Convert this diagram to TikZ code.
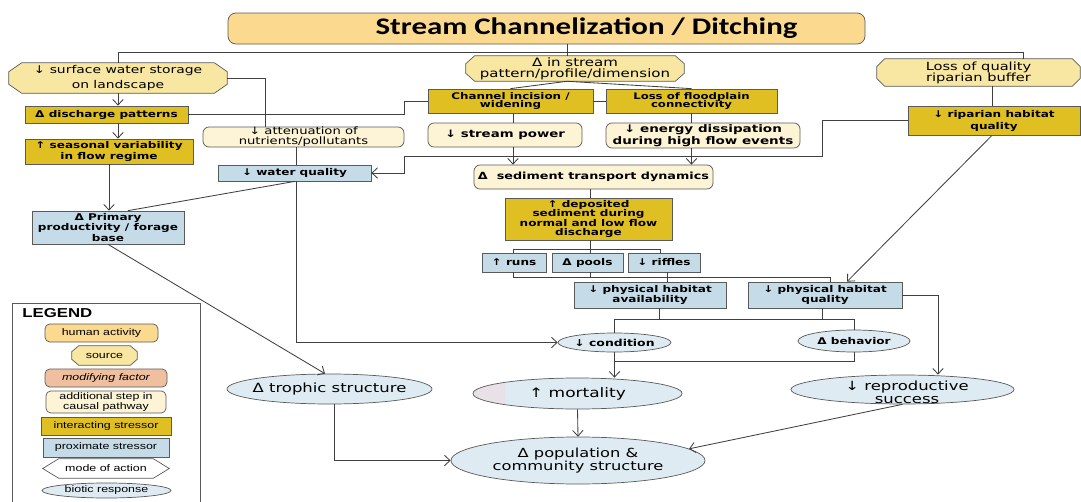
\documentclass[tikz,border=0pt]{standalone}
\usepackage{fontspec}
\usetikzlibrary{shapes.geometric,arrows.meta}
\newfontfamily\dv{DejaVu Sans}[FakeStretch=1.3]
\newfontfamily\calf{Carlito}[FakeStretch=1.3]
\newfontfamily\arl{Liberation Sans}[FakeStretch=1.3]
\newdimen\pxu \pxu=0.25mm
\newcommand\fsz[2]{\fontsize{#1}{#2}\selectfont}
\definecolor{titlec}{HTML}{FBD98F}
\definecolor{srcc}{HTML}{F8E7A2}
\definecolor{goldc}{HTML}{E0BF22}
\definecolor{creamc}{HTML}{FDF4D6}
\definecolor{bluec}{HTML}{C5DCE8}
\definecolor{bioc}{HTML}{DEEBF2}
\definecolor{pinkc}{HTML}{E8E2E8}
\definecolor{salc}{HTML}{EFBF9F}
\definecolor{bordc}{HTML}{5A5A5A}
\definecolor{linec}{HTML}{404040}
\pgfdeclarelayer{background}
\pgfsetlayers{background,main}
\newcommand\octagon[4]{\begin{pgfonlayer}{background}\path[draw=bordc,fill=#4,line width=0.5pt]
 ([xshift=#2\pxu]#1.north west) -- ([xshift=-#2\pxu]#1.north east) -- ([yshift=-#3\pxu]#1.north east)
 -- ([yshift=#3\pxu]#1.south east) -- ([xshift=-#2\pxu]#1.south east) -- ([xshift=#2\pxu]#1.south west)
 -- ([yshift=#3\pxu]#1.south west) -- ([yshift=-#3\pxu]#1.north west) -- cycle;\end{pgfonlayer}}
\newcommand\hexagon[3]{\begin{pgfonlayer}{background}\path[draw=bordc,fill=#3,line width=0.5pt]
 (#1.west) -- ([xshift=#2\pxu]#1.north west) -- ([xshift=-#2\pxu]#1.north east) -- (#1.east)
 -- ([xshift=-#2\pxu]#1.south east) -- ([xshift=#2\pxu]#1.south west) -- cycle;\end{pgfonlayer}}
\tikzset{
 bb/.style n args={4}{at={({(#1+#3)/2},{(#2+#4)/2})}, anchor=center,
   minimum width={(#3-#1)*0.25mm}, minimum height={(#4-#2)*0.25mm}},
 box/.style={draw=bordc, line width=0.5pt, inner sep=0pt, align=center},
 goldbox/.style={box, fill=goldc, font=\dv\bfseries\fsz{6.6}{6.4}},
 bluebox/.style={box, fill=bluec, font=\dv\bfseries\fsz{6.6}{6.4}},
 creambox/.style={box, fill=creamc, rounded corners=1.5mm},
 humbox/.style={box, fill=titlec, rounded corners=2mm},
 srcbox/.style={inner sep=0pt, align=center, font=\dv\fsz{7.6}{10.5}},
 biobox/.style={box, ellipse, fill=bioc, font=\dv\fsz{9}{10}},
 conn/.style={draw=linec, line width=0.6pt},
 arr/.style={conn, -{Straight Barb[length=1.4mm, width=2.6mm]}},
}
\begin{document}
\begin{tikzpicture}[x=0.25mm, y=-0.25mm]
\useasboundingbox (0,0) rectangle (1081,502);
\begin{pgfonlayer}{background}
\fill[white] (0,0) rectangle (1081,502);
\end{pgfonlayer}

% ---- nodes ----
\node[humbox, bb={228}{13}{865}{44}, font=\calf\bfseries\fsz{16.9}{18}] (title) {\hspace*{80\pxu}Stream Channelization / Ditching};

\node[srcbox, bb={9}{63}{227}{93}] (sws) {↓ surface water storage\\on landscape};
\octagon{sws}{13}{9}{srcc}
\node[srcbox, bb={466}{56}{684}{81}, font=\dv\fsz{8.2}{7.8}] (ins) {Δ in stream\\pattern/profile/dimension};
\octagon{ins}{9}{8}{srcc}
\node[srcbox, bb={877}{59}{1080}{86}, font=\dv\fsz{8.0}{7.8}] (lqb) {Loss of quality\\riparian buffer};
\octagon{lqb}{8}{8}{srcc}

\node[goldbox, bb={25}{106}{188}{123}] (dis) {Δ discharge patterns};
\node[goldbox, bb={25}{139}{193}{164}] (sea) {↑ seasonal variability\\in flow regime};
\node[creambox, bb={203}{127}{404}{147}, font=\dv\fsz{7.2}{7.1}] (att) {↓ attenuation of\\nutrients/pollutants};
\node[bluebox, bb={218}{165}{371}{181}] (wq) {↓ water quality};
\node[goldbox, bb={428}{89}{593}{113}, font=\dv\bfseries\fsz{6.5}{6.2}] (cin) {Channel incision /\\widening};
\node[goldbox, bb={606}{89}{777}{113}, font=\dv\bfseries\fsz{6.4}{6.2}] (lfc) {Loss of floodplain\\connectivity};
\node[creambox, bb={428}{123}{582}{147}, font=\dv\bfseries\fsz{7.3}{8}] (spw) {↓ stream power};
\node[creambox, bb={606}{123}{800}{148}, font=\dv\bfseries\fsz{7.4}{8.5}] (ene) {↓ energy dissipation\\during high flow events};
\node[creambox, bb={474}{165}{713}{189}, font=\dv\bfseries\fsz{7.0}{8}] (sed) {Δ\ \ sediment transport dynamics};
\node[goldbox, bb={505}{198}{672}{240}] (dep) {↑ deposited\\sediment during\\normal and low flow\\discharge};
\node[bluebox, bb={482}{253}{546}{272}] (runs) {↑ runs};
\node[bluebox, bb={552}{253}{623}{272}] (pools) {Δ pools};
\node[bluebox, bb={628}{253}{700}{272}] (riff) {↓ riffles};
\node[goldbox, bb={908}{106}{1080}{135}, font=\dv\bfseries\fsz{6.6}{8.5}] (rhq) {↓ riparian habitat\\quality};
\node[bluebox, bb={574}{282}{726}{308}] (pha) {↓ physical habitat\\availability};
\node[bluebox, bb={748}{282}{902}{308}] (phq) {↓ physical habitat\\quality};
\node[bluebox, bb={32}{211}{184}{244}] (ppf) {Δ Primary\\productivity / forage\\base};

\node[biobox, bb={558}{333}{671}{352}, font=\dv\bfseries\fsz{6.8}{8}] (cond) {\makebox[0pt]{↓ condition}};
\node[biobox, bb={798}{330}{910}{352}, font=\dv\bfseries\fsz{6.6}{8}] (beh) {\makebox[0pt]{Δ behavior}};
\node[biobox, bb={473}{378}{682}{409}, font=\dv\fsz{9.3}{10},
  path picture={\fill[pinkc] (path picture bounding box.south west) rectangle ([xshift=32\pxu]path picture bounding box.north west);}] (mort) {\makebox[0pt]{↑ mortality}};
\node[biobox, bb={451}{437}{705}{484}, font=\dv\fsz{8.9}{8.6}] (pop) {Δ population \&\\community structure};
\node[biobox, bb={791}{375}{1014}{404}] (rep) {};
\node[inner sep=0pt, align=center, font=\dv\fsz{9}{9.2}] (reptxt) at (907,392) {↓ reproductive\\success};
\node[biobox, bb={227}{374}{432}{404}, font=\dv\fsz{9}{10}] (tro) {\makebox[0pt]{Δ trophic structure}};

% ---- legend ----
\node[draw=bordc, line width=0.6pt, inner sep=0pt, bb={12}{303}{200}{512}] (leg) {};
\node[anchor=west, inner sep=0pt, font=\arl\bfseries\fsz{9.2}{10}] (legt) at (22,313) {LEGEND};
\node[humbox, rounded corners=1.2mm, bb={45}{324}{158}{342}, font=\arl\fsz{6.8}{7}] (lh) {human activity};
\node[srcbox, bb={72}{346}{137}{365}, font=\arl\fsz{6.8}{7}] (ls) {source};
\octagon{ls}{7}{6}{srcc}
\node[box, fill=salc, rounded corners=1.2mm, bb={45}{369}{167}{387}, font=\arl\itshape\fsz{6.8}{7}] (lm) {modifying factor};
\node[creambox, rounded corners=1.2mm, bb={46}{391}{166}{413}, font=\arl\fsz{6.8}{5.6}] (la) {additional step in\\causal pathway};
\node[goldbox, bb={41}{417}{171}{435}, font=\arl\fsz{6.8}{7}] (li) {interacting stressor};
\node[bluebox, bb={43}{438}{169}{457}, font=\arl\fsz{6.8}{7}] (lp) {proximate stressor};
\node[srcbox, bb={43}{459}{169}{478}, font=\arl\fsz{6.8}{7}] (lmo) {mode of action};
\hexagon{lmo}{16}{white}
\node[biobox, bb={42}{483}{171}{498}, font=\arl\fsz{6.8}{7}] (lb) {\makebox[0pt]{biotic response}};

% ---- junction coordinates ----
\coordinate (j1) at (590,277);
\coordinate (j2) at (659,319);
\coordinate (j3) at (822,319);
\coordinate (j4) at (614.5,361);

% ---- connectors ----
\draw[conn] (title.south -| 567,0) -- (ins.north -| 567,0);
\draw[conn] (sws.north) |- (1023,52) -- (lqb.north -| 1023,0);
\draw[arr] (sws.south) -- (dis.north -| sws.south);
\draw[arr] (dis.south -| sws.south) -- (sea.north -| sws.south);
\draw[arr] (sea.south) -- (ppf.north -| sea.south);
\draw[conn] (sws.east) -| (att.north -| 265,0);
\draw[conn] (dis.east) -- (dis.east -| 404,0) |- (cin.west);
\draw[conn] (att.south -| 296,0) -- (wq.north -| 296,0);
\draw[arr] (wq.south -| 296,0) |- (cond.west);
\draw[conn] (wq.south -| 295,0) -- (ppf.north -| 128,0);
\draw[conn] (cin.east) -- (lfc.west);
\draw[conn] (ins.south -| 567,0) -- (cin.north);
\draw[conn] (ins.south -| 567,0) -- (lfc.north);
\draw[conn] (cin.south -| 513,0) -- (spw.north -| 513,0);
\draw[conn] (lfc.south) -- (ene.north -| lfc.south);
\draw[arr] (spw.south -| 513,0) -- (sed.north -| 513,0);
\draw[arr] (ene.south -| lfc.south) -- (sed.north -| lfc.south);
\draw[arr] (rhq.west) -| (822,156) -| (404,173) -- (wq.east);
\draw[conn] (lqb.south -| 992,0) -- (rhq.north -| 992,0);
\draw[arr] (rhq.south -| 992,0) -- (phq.north -| 847,0);
\draw[conn] (sed.south -| 590,0) -- (dep.north -| 590,0);
\draw[conn] (dep.south -| 590,0) -- (pools.north -| 590,0);
\draw[conn] (runs.north -| 513,0) |- (660,249) -- (riff.north -| 660,0);
\draw[conn] (runs.south -| 513,0) |- (830,277) -- (phq.north -| 830,0);
\draw[conn] (pools.south -| 590,0) -- (j1);
\draw[conn] (riff.south -| 667,0) -- (pha.north -| 667,0);
\draw[conn] (pha.south -| 659,0) -- (j2);
\draw[conn] (phq.south -| 822,0) -- (j3);
\draw[conn] (cond.north) -- (cond.north |- 0,319) -| (beh.north);
\draw[arr] (phq.east) -| (rep.north -| 938,0);
\draw[arr] (cond.south) -- (mort.north -| cond.south);
\draw[conn] (beh.south) |- (j4);
\draw[arr] (mort.south) -- (pop.north);
\draw[arr] (rep.south) -- (pop.6);
\draw[arr] (ppf.south) -- (tro.north -| 325,0);
\draw[arr] (tro.south -| 334,0) |- (pop.west);
\end{tikzpicture}
\end{document}
